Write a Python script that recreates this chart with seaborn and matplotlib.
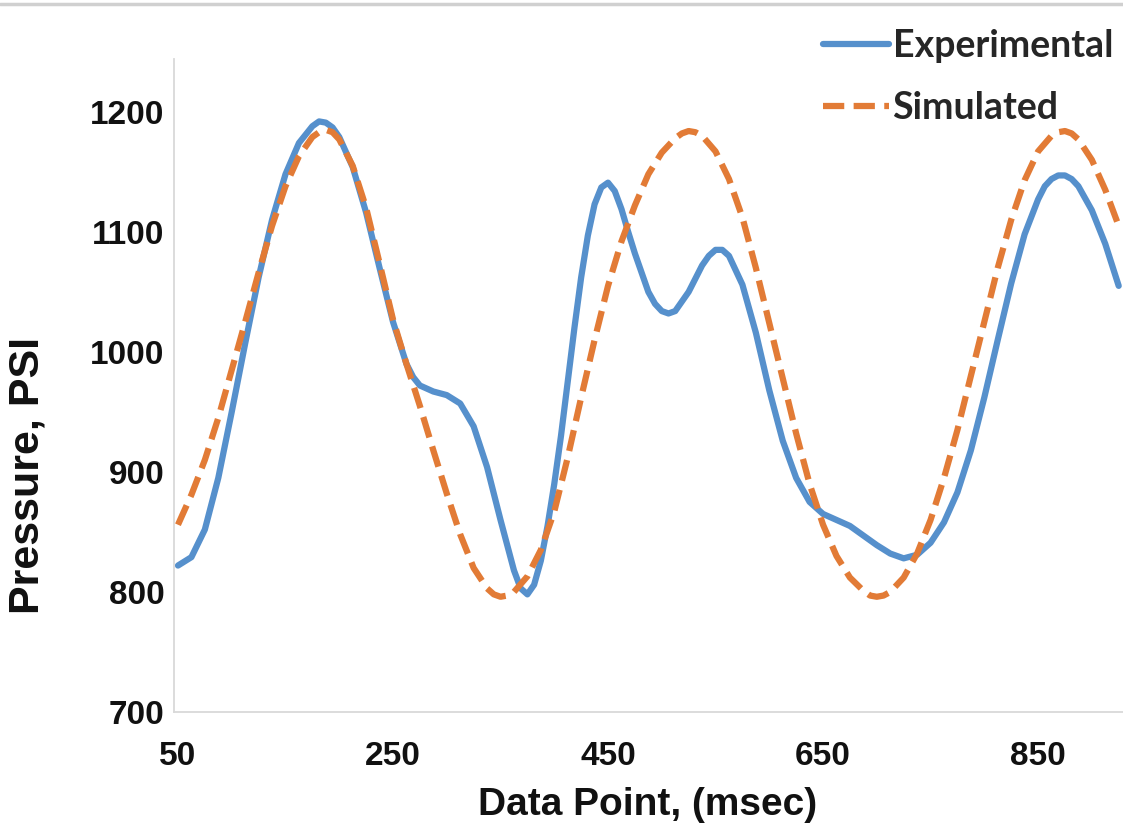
import matplotlib
matplotlib.use("Agg")
import matplotlib.pyplot as plt
import pandas as pd
import seaborn as sns
from matplotlib.lines import Line2D

# Measured pressure trace: sample time (msec) and pressure (PSI)
exp_time = [50, 62.5, 75, 87.5, 100, 112.5, 125, 137.5, 150, 162.5, 175, 181.25,
            187.5, 193.75, 200, 212.5, 225, 237.5, 250, 262.5, 268.75, 275, 287.5,
            300, 312.5, 325, 337.5, 350, 362.5, 368.75, 375, 381.25, 387.5, 393.75,
            400, 406.25, 412.5, 418.75, 425, 431.25, 437.5, 443.75, 450, 456.25,
            462.5, 468.75, 475, 487.5, 493.75, 500, 506.25, 512.5, 525, 537.5,
            543.75, 550, 556.25, 562.5, 575, 587.5, 600, 612.5, 625, 637.5, 650,
            662.5, 675, 687.5, 700, 712.5, 725, 737.5, 750, 762.5, 775, 787.5, 800,
            812.5, 825, 837.5, 850, 856.25, 862.5, 868.75, 875, 881.25, 887.5, 900,
            912.5, 925]
exp_psi = [822, 829, 852, 895, 950, 1007, 1062, 1110, 1148, 1174, 1188, 1192,
           1191, 1187, 1179, 1154, 1116, 1070, 1025, 990, 979, 972, 967,
           964, 957, 938, 904, 860, 818, 803, 798, 806, 826, 855,
           890, 930, 975, 1020, 1062, 1097, 1123, 1137, 1141, 1134,
           1119, 1100, 1082, 1050, 1040, 1034, 1032, 1034, 1050, 1072,
           1080, 1085, 1085, 1080, 1056, 1016, 968, 926, 895, 875, 865,
           860, 855, 847, 839, 832, 828, 831, 841, 858, 883, 918, 962,
           1010, 1057, 1098, 1127, 1138, 1144, 1147, 1147, 1144, 1138, 1118,
           1090, 1055]

# Model pressure trace: sample time (msec) and pressure (PSI)
sim_time = [50, 62.5, 75, 87.5, 100, 112.5, 125, 137.5, 150, 162.5, 175, 181.25,
            187.5, 193.75, 200, 212.5, 225, 237.5, 250, 262.5, 275, 287.5, 300,
            312.5, 325, 337.5, 343.75, 350, 356.25, 362.5, 375, 387.5, 400, 412.5,
            425, 437.5, 450, 462.5, 475, 487.5, 500, 512.5, 518.75, 525, 531.25,
            537.5, 550, 562.5, 575, 587.5, 600, 612.5, 625, 637.5, 650, 662.5, 675,
            687.5, 693.75, 700, 706.25, 712.5, 725, 737.5, 750, 762.5, 775, 787.5,
            800, 812.5, 825, 837.5, 850, 862.5, 868.75, 875, 881.25, 887.5, 900,
            912.5, 925]
sim_psi = [856, 881, 910, 945, 985, 1025, 1066, 1105, 1138, 1163, 1179, 1183,
           1185, 1183, 1177, 1155, 1120, 1074, 1027, 990, 955, 918, 882,
           848, 820, 803, 798, 796, 797, 800, 813, 835, 867, 912,
           962, 1010, 1055, 1092, 1122, 1148, 1166, 1178, 1182, 1184, 1183,
           1180, 1167, 1144, 1112, 1070, 1024, 978, 932, 890, 856, 830, 812,
           801, 797, 796, 797, 800, 812, 832, 860, 895, 935, 980,
           1025, 1070, 1110, 1143, 1167, 1180, 1183, 1184, 1182, 1177, 1160,
           1135, 1105]

series_names = ["Experimental", "Simulated"]
x_ticks = [50, 250, 450, 650, 850]
y_ticks = [700, 800, 900, 1000, 1100, 1200]

df = pd.concat([
    pd.DataFrame({"t": exp_time, "p": exp_psi, "series": series_names[0]}),
    pd.DataFrame({"t": sim_time, "p": sim_psi, "series": series_names[1]}),
], ignore_index=True)

sns.set_theme(style="white")
plt.rcParams["font.family"] = ["Liberation Sans", "DejaVu Sans"]

W, H = 1123, 832
fig = plt.figure(figsize=(W / 100, H / 100), dpi=100)
ax = fig.add_axes([174 / W, 120 / H, (W - 174) / W, (712 - 59) / H])

blue = "#5690CC"
orange = "#E27B36"
lw = 4.5
dash = (3.4, 1.5)
sns.lineplot(data=df, x="t", y="p", hue="series", style="series",
             palette={"Experimental": blue, "Simulated": orange},
             dashes={"Experimental": "", "Simulated": dash},
             linewidth=lw, sort=False, estimator=None, legend=False, ax=ax)
for ln in ax.lines:
    ln.set_solid_capstyle("round")
    ln.set_solid_joinstyle("round")
    ln.set_dash_joinstyle("round")
    ln.set_dash_capstyle("butt")

ax.set_xlim(46.3, 929)
ax.set_ylim(700, 1244)
ax.set_xticks(x_ticks)
ax.set_yticks(y_ticks)
ax.tick_params(axis="both", length=0, labelsize=24, colors="#111111")
ax.tick_params(axis="x", pad=21)
ax.tick_params(axis="y", pad=7)
for lab in ax.get_xticklabels() + ax.get_yticklabels():
    lab.set_fontweight("bold")
ax.set_xlabel("")
ax.set_ylabel("")

for side in ["top", "right"]:
    ax.spines[side].set_visible(False)
for side in ["left", "bottom"]:
    ax.spines[side].set_color("#D9D9D9")
    ax.spines[side].set_linewidth(1.3)

fig.text(648 / W, 1 - 805 / H, "Data Point, (msec)", ha="center", va="center",
         fontsize=28, fontweight="bold", color="#111111")
fig.text(28 / W, 1 - 475 / H, "Pressure, PSI", ha="center", va="center",
         rotation=90, fontsize=31, fontweight="bold", color="#111111")

# chart frame line along the top
fig.add_artist(Line2D([0, 1], [1 - 4 / H, 1 - 4 / H], transform=fig.transFigure,
                      color="#D0D0D0", linewidth=2.5))

handles = [Line2D([], [], color=blue, linewidth=lw),
           Line2D([], [], color=orange, linewidth=lw, dashes=dash)]
leg = fig.legend(handles, series_names, loc="upper right",
                 bbox_to_anchor=(1 - 10 / W, 1 - 29 / H), frameon=False,
                 prop={"family": "Lato", "weight": "bold", "size": 27},
                 handlelength=1.75, handletextpad=0.1, labelspacing=0.75,
                 borderaxespad=0, borderpad=0)

fig.savefig("out.png", dpi=100, facecolor="white")
